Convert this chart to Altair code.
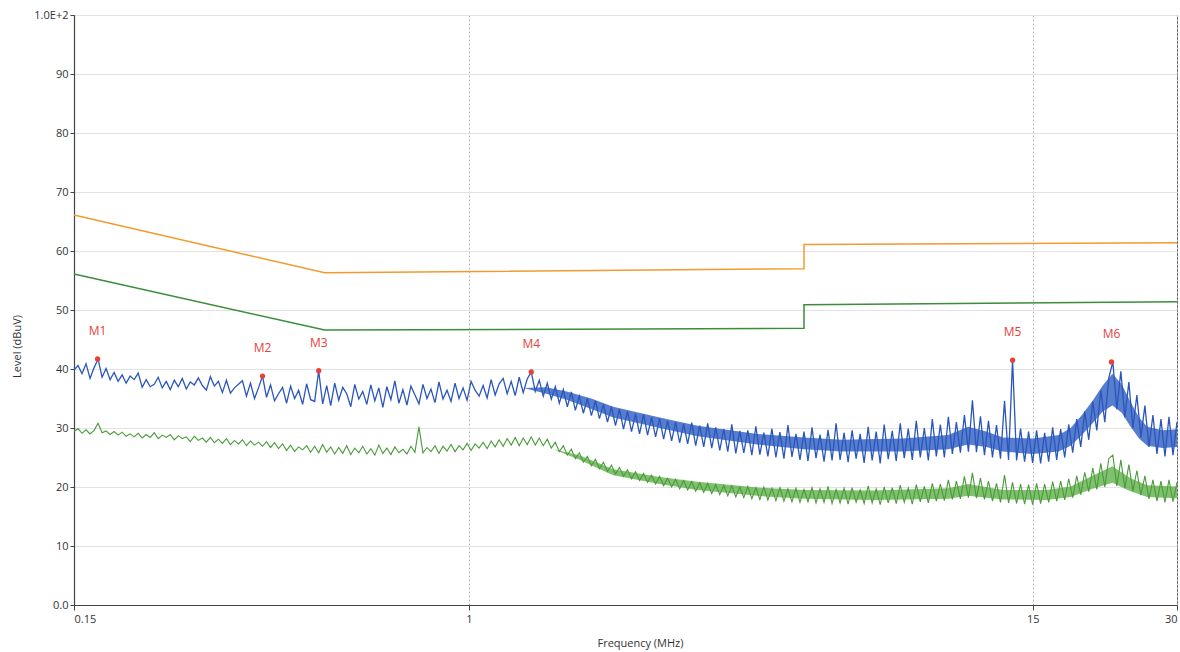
import altair as alt
import numpy as np
import pandas as pd

# ---------------- data ----------------
F_MIN, F_MAX = 0.15, 30.0   # sweep range (MHz)

# peak trace (blue), one value per sweep point, 0.15 -> 30 MHz, log-spaced sweep
BLUE = [
    39.8, 40.6, 39.2, 40.9, 38.4, 40.2, 41.7, 38.6, 40.1, 38.2, 39.4, 37.9,
    39.0, 37.6, 38.8, 38.2, 39.3, 36.9, 38.2, 37.0, 37.4, 38.6, 36.8, 37.9,
    36.5, 38.1, 37.0, 38.4, 36.6, 37.8, 37.3, 38.5, 37.2, 36.4, 38.7, 37.1,
    37.9, 36.0, 38.1, 35.9, 36.8, 37.4, 38.0, 35.4, 37.6, 35.0, 36.8, 38.8,
    35.2, 37.3, 34.6, 35.8, 36.9, 34.2, 37.1, 35.0, 36.4, 34.0, 37.5, 34.8,
    34.5, 39.7, 34.1, 37.2, 33.8, 37.6, 34.7, 36.9, 35.8, 33.6, 37.4, 34.9,
    36.2, 34.0, 37.3, 34.6, 36.8, 33.5, 37.0, 34.8, 38.0, 34.2, 36.5, 33.9,
    37.1, 35.6, 34.1, 37.4, 35.0, 36.6, 34.3, 37.8, 34.9, 36.4, 34.5, 37.6,
    35.0, 36.8, 34.7, 37.9, 36.4, 35.4, 37.2, 35.1, 38.2, 35.6, 37.5, 38.4,
    35.8, 37.9, 35.5, 38.6, 36.0, 38.3, 39.5, 36.2, 38.1, 35.4, 37.6, 34.9,
    37.0, 34.2, 36.5, 33.6, 36.1, 33.0, 35.4, 32.5, 35.0, 32.1, 34.6, 31.6,
    34.0, 31.0, 33.6, 30.4, 33.2, 29.8, 32.8, 29.4, 32.4, 29.0, 32.3, 28.8,
    31.8, 28.5, 31.6, 28.1, 31.2, 27.8, 31.0, 27.5, 30.7, 27.3, 30.9, 27.0,
    30.4, 26.8, 30.8, 26.6, 30.1, 26.2, 29.8, 26.0, 30.6, 25.7, 29.5, 25.8,
    29.6, 25.4, 30.3, 25.5, 29.2, 25.2, 29.9, 25.0, 29.3, 24.8, 30.5, 25.1,
    29.0, 24.6, 29.4, 24.4, 30.1, 24.9, 28.9, 24.3, 29.7, 24.5, 30.8, 24.6,
    29.2, 24.2, 29.6, 24.8, 29.0, 24.1, 30.2, 24.5, 29.4, 24.0, 30.6, 24.7,
    29.5, 24.4, 30.8, 24.9, 29.9, 24.6, 31.2, 25.0, 30.0, 24.5, 31.5, 25.2,
    30.6, 25.0, 31.9, 25.6, 31.0, 25.8, 32.2, 26.0, 34.7, 25.9, 32.0, 25.4,
    31.2, 25.0, 30.5, 24.8, 34.6, 24.6, 41.5, 24.5, 29.9, 24.3, 29.4, 24.1,
    29.6, 24.0, 29.2, 24.3, 30.1, 24.6, 29.8, 25.0, 30.6, 25.8, 31.5, 26.8,
    32.8, 28.0, 34.5, 29.6, 36.4, 31.0, 38.5, 41.2, 33.2, 39.6, 31.8, 37.8,
    30.0, 35.6, 28.4, 33.8, 26.8, 32.2, 25.6, 31.5, 25.2, 31.9, 25.4, 31.0,
]

# average trace (green), same sweep points
GREEN = [
    29.4, 29.9, 29.1, 29.7, 29.0, 29.6, 30.8, 29.2, 29.5, 28.9, 29.4, 28.8,
    29.3, 28.6, 29.0, 28.5, 29.1, 28.3, 28.9, 28.4, 29.2, 28.2, 28.8, 28.4,
    28.9, 28.0, 28.7, 28.2, 28.5, 27.7, 28.6, 27.9, 28.3, 27.6, 28.4, 27.5,
    28.1, 27.4, 28.2, 27.2, 27.9, 27.3, 28.0, 27.0, 27.8, 27.1, 27.6, 26.9,
    27.7, 26.7, 27.5, 26.5, 27.3, 26.2, 27.1, 26.0, 26.8, 26.3, 27.0, 25.9,
    26.9, 25.8, 27.2, 25.9, 26.8, 25.6, 26.7, 25.7, 27.0, 25.5, 26.6, 25.8,
    26.9, 25.6, 26.5, 25.4, 27.1, 25.7, 26.6, 25.5, 26.8, 25.8, 26.4, 25.6,
    26.9, 25.9, 30.2, 25.8, 26.7, 26.0, 27.0, 25.7, 26.9, 26.1, 27.2, 26.0,
    27.0, 26.3, 27.4, 26.2, 27.3, 26.6, 27.6, 26.5, 27.8, 26.8, 28.0, 26.9,
    28.2, 27.1, 28.4, 27.0, 28.3, 27.2, 28.5, 27.1, 28.3, 27.0, 28.1, 26.6,
    27.6, 26.0, 27.0, 25.4, 26.4, 24.8, 25.8, 24.2, 25.2, 23.6, 24.7, 23.1,
    24.2, 22.6, 23.7, 22.2, 23.3, 21.8, 22.9, 21.4, 22.6, 21.1, 22.3, 20.8,
    22.0, 20.5, 21.8, 20.2, 21.5, 20.0, 21.3, 19.7, 21.1, 19.5, 20.9, 19.3,
    20.7, 19.1, 20.6, 18.9, 20.4, 18.7, 20.3, 18.5, 20.2, 18.3, 20.0, 18.2,
    20.1, 18.0, 19.9, 17.9, 20.0, 17.8, 19.8, 17.7, 19.9, 17.6, 19.7, 17.5,
    19.8, 17.4, 19.6, 17.5, 19.9, 17.3, 19.7, 17.4, 20.1, 17.2, 19.6, 17.3,
    19.8, 17.1, 19.9, 17.4, 19.5, 17.2, 20.2, 17.3, 19.7, 17.0, 20.0, 17.3,
    19.9, 17.2, 20.3, 17.4, 19.8, 17.1, 20.4, 17.5, 20.1, 17.3, 20.6, 17.6,
    20.5, 17.7, 21.2, 17.9, 21.0, 18.0, 21.8, 18.2, 22.4, 18.1, 21.5, 17.9,
    21.0, 17.6, 20.6, 17.4, 22.0, 17.3, 20.8, 17.2, 20.5, 17.1, 20.4, 17.0,
    20.6, 17.2, 20.5, 17.4, 20.9, 17.6, 21.0, 17.8, 21.4, 18.2, 21.9, 18.7,
    22.5, 19.2, 23.2, 19.6, 24.0, 20.0, 24.8, 25.4, 20.2, 24.6, 19.8, 23.8,
    19.3, 22.8, 18.6, 21.9, 18.0, 21.2, 17.6, 21.0, 17.4, 21.2, 17.5, 20.8,
]

# dense core of the noise band (where the traces look solid)
BLUE_BAND_F = [1.3, 1.45, 1.6, 1.8, 2.0, 2.5, 3.0, 4.0, 5.0, 6.0, 8.0, 10, 11, 12, 13,
               15, 17, 18, 19, 20, 21, 22, 23, 24, 25, 26, 28, 30]
BLUE_BAND_LO = [36.8, 35.8, 34.8, 33.2, 31.8, 30.0, 28.6, 27.2, 26.4, 26.0, 26.0, 26.4, 27.2, 26.8, 26.0,
                25.6, 26.0, 27.0, 28.8, 30.8, 32.8, 33.8, 32.6, 30.2, 28.2, 27.0, 26.6, 26.8]
BLUE_BAND_HI = [36.8, 36.9, 36.2, 35.0, 33.6, 31.8, 30.4, 29.0, 28.4, 28.0, 28.2, 28.8, 30.2, 29.4, 28.4,
                28.2, 28.8, 30.0, 32.2, 34.6, 37.2, 39.2, 37.4, 34.4, 31.8, 30.2, 29.6, 29.8]

GREEN_BAND_F = [1.5, 1.7, 2.0, 2.5, 3.0, 4.0, 5.0, 7.0, 10, 11, 13, 16, 18, 20, 22, 24, 26, 30]
GREEN_BAND_LO = [26.4, 24.6, 22.0, 20.5, 19.5, 18.5, 18.0, 17.8, 18.0, 18.5, 17.9, 17.8, 18.3, 19.7, 20.7, 19.3, 18.3, 18.1]
GREEN_BAND_HI = [26.4, 25.4, 23.0, 21.7, 20.9, 19.9, 19.5, 19.4, 19.8, 20.5, 19.5, 19.5, 20.1, 21.9, 23.5, 21.5, 20.3, 20.1]

# limit lines
LIMIT_F = [0.15, 0.5, 5.0, 5.0, 30.0]
QP_LIMIT = [66.1, 56.3, 57.0, 61.1, 61.4]
AV_LIMIT = [56.1, 46.6, 46.9, 50.9, 51.4]

# markers
MARK_NAMES = ["M1", "M2", "M3", "M4", "M5", "M6"]
MARK_F = [0.168, 0.371, 0.486, 1.349, 13.62, 21.9]
MARK_L = [41.7, 38.8, 39.7, 39.5, 41.5, 41.2]

# ---------------- tables ----------------
sweep = np.geomspace(F_MIN, F_MAX, len(BLUE))
blue_df = pd.DataFrame({"freq": sweep, "level": BLUE, "i": range(len(BLUE))})
green_df = pd.DataFrame({"freq": sweep, "level": GREEN, "i": range(len(GREEN))})
blue_band = pd.DataFrame({"freq": BLUE_BAND_F, "lo": BLUE_BAND_LO, "hi": BLUE_BAND_HI})
green_band = pd.DataFrame({"freq": GREEN_BAND_F, "lo": GREEN_BAND_LO, "hi": GREEN_BAND_HI})
qp_df = pd.DataFrame({"freq": LIMIT_F, "level": QP_LIMIT, "i": range(len(LIMIT_F))})
av_df = pd.DataFrame({"freq": LIMIT_F, "level": AV_LIMIT, "i": range(len(LIMIT_F))})
mk_df = pd.DataFrame({"freq": MARK_F, "level": MARK_L, "name": MARK_NAMES})

FONT = "Liberation Sans Narrow, Open Sans, Roboto, sans-serif"

xscale = alt.Scale(type="log", domain=[F_MIN, F_MAX], nice=False)
yscale = alt.Scale(domain=[0, 100], nice=False)
xaxis = alt.Axis(
    values=[0.15, 1, 15, 30],
    labelExpr="datum.value < 1 ? '0.15' : format(datum.value, 'd')",
    title="Frequency (MHz)",
    grid=True, gridDash=[2, 2], gridColor="#b8b8b8",
    tickSize=5, labelPadding=3, labelFontSize=11,
    titleFontSize=11, titleFontWeight="normal",
    titleX=566, titleY=32, titleAnchor="middle",
)
yaxis = alt.Axis(
    values=list(range(0, 101, 10)),
    labelExpr="datum.value == 0 ? '0.0' : (datum.value == 100 ? '1.0E+2' : datum.label)",
    title="Level (dBuV)",
    grid=True, gridColor="#e2e2e2",
    tickSize=4, labelPadding=2, labelFontSize=11,
    titleFontSize=11, titleFontWeight="normal",
    titleX=-57, titleY=331, titleAngle=-90, titleBaseline="middle", titleAnchor="middle",
)

X = alt.X("freq:Q", scale=xscale, axis=xaxis)
Y = alt.Y("level:Q", scale=yscale, axis=yaxis)

qp = alt.Chart(qp_df).mark_line(color="#f39a2e", strokeWidth=1.5).encode(x=X, y=Y, order="i:Q")
av = alt.Chart(av_df).mark_line(color="#3c8c3c", strokeWidth=1.5).encode(x=X, y=Y, order="i:Q")

g_band = alt.Chart(green_band).mark_area(color="#5fb14a", opacity=0.8).encode(
    x=X, y=alt.Y("lo:Q", scale=yscale, axis=yaxis), y2="hi:Q")
g_line = alt.Chart(green_df).mark_line(color="#4a9a3a", strokeWidth=1.1).encode(x=X, y=Y, order="i:Q")

b_band = alt.Chart(blue_band).mark_area(color="#2d5cc2", opacity=0.8).encode(
    x=X, y=alt.Y("lo:Q", scale=yscale, axis=yaxis), y2="hi:Q")
b_line = alt.Chart(blue_df).mark_line(color="#2a56bc", strokeWidth=1.3).encode(x=X, y=Y, order="i:Q")

dots = alt.Chart(mk_df).mark_circle(color="#e8413c", size=28, opacity=1).encode(x=X, y=Y)
labels = alt.Chart(mk_df).mark_text(color="#e8413c", fontSize=12, dy=-28, font=FONT).encode(
    x=X, y=Y, text="name:N")

chart = alt.layer(qp, av, g_band, g_line, b_band, b_line, dots, labels).properties(
    width=1103, height=590,
    autosize=alt.AutoSizeParams(type="none"),
    padding={"left": 74, "top": 15, "right": 3, "bottom": 47},
    background="white",
).configure_view(
    stroke="#555555", strokeWidth=1,
).configure_axis(
    labelFont=FONT, titleFont=FONT,
    labelColor="#333333", titleColor="#333333",
    domainColor="#444444", tickColor="#444444", domainWidth=1.2,
)

chart.save("out.html", embed_options={"renderer": "svg", "actions": False})
